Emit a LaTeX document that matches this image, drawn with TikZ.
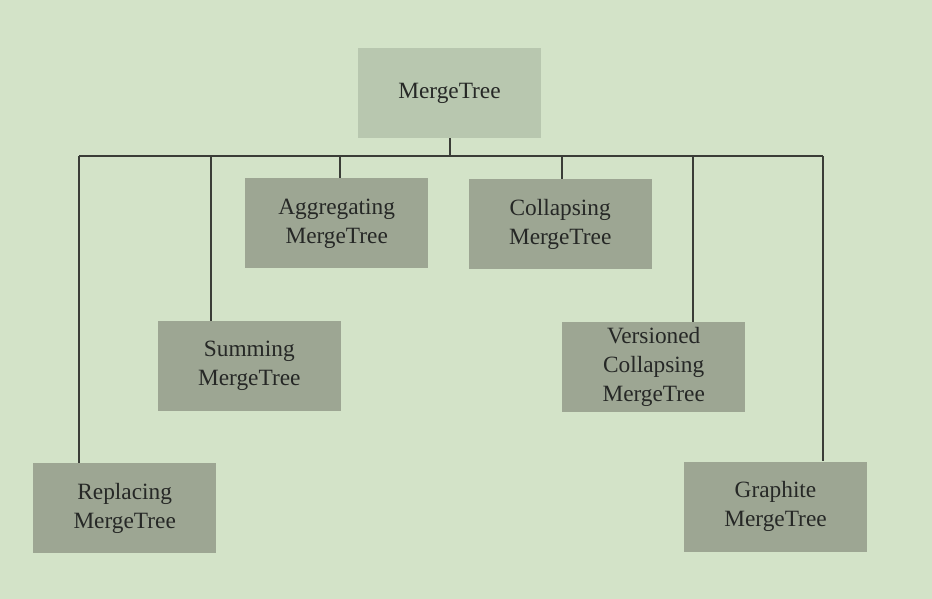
\documentclass[tikz,border=0pt]{standalone}
\usepackage{fontspec}
\setmainfont{Liberation Serif}
\definecolor{bgGreen}{HTML}{D3E3C8}
\definecolor{rootGreen}{HTML}{B8C7AF}
\definecolor{leafGreen}{HTML}{9DA693}
\definecolor{lineGray}{HTML}{3A3D37}
\definecolor{textGray}{HTML}{262826}
\tikzset{
  treebox/.style={fill=leafGreen, text=textGray, align=center, inner sep=0pt,
    minimum width=137.25pt, minimum height=67.5pt,
    font=\fontsize{17.5}{21.75}\selectfont},
  rootbox/.style={treebox, fill=rootGreen},
  branch/.style={draw=lineGray, line width=1.25pt}
}

\begin{document}
\begin{tikzpicture}[x=0.75pt,y=-0.75pt]
        \fill[bgGreen] (0,0) rectangle (932,599);
        \useasboundingbox (0,0) rectangle (932,599);
        \node[rootbox] (root) at (449.5,93) {MergeTree};
        \node[treebox] (agg) at (336.7,223.3) {Aggregating\\MergeTree};
        \node[treebox] (coll) at (560.2,224.3) {Collapsing\\MergeTree};
        \node[treebox] (sum) at (249.3,366) {Summing\\MergeTree};
        \node[treebox] (vers) at (653.7,367) {Versioned\\Collapsing\\MergeTree};
        \node[treebox] (repl) at (124.7,508.3) {Replacing\\MergeTree};
        \node[treebox] (graph) at (775.5,506.5) {Graphite\\MergeTree};
        \coordinate (busroot) at (450,156.3);
        \draw[branch] (root.south -| busroot) -- (busroot);
        \foreach \n/\x in {repl/79, sum/210.7, agg/340, coll/562, vers/693.3, graph/822.7}
            \coordinate (bus\n) at (\x,156.3);
        \draw[branch] (busrepl) -- (busgraph);
        \foreach \n in {repl, sum, agg, coll, vers, graph}
            \draw[branch] (bus\n) -- (bus\n |- \n.north);
    \end{tikzpicture}
\end{document}
